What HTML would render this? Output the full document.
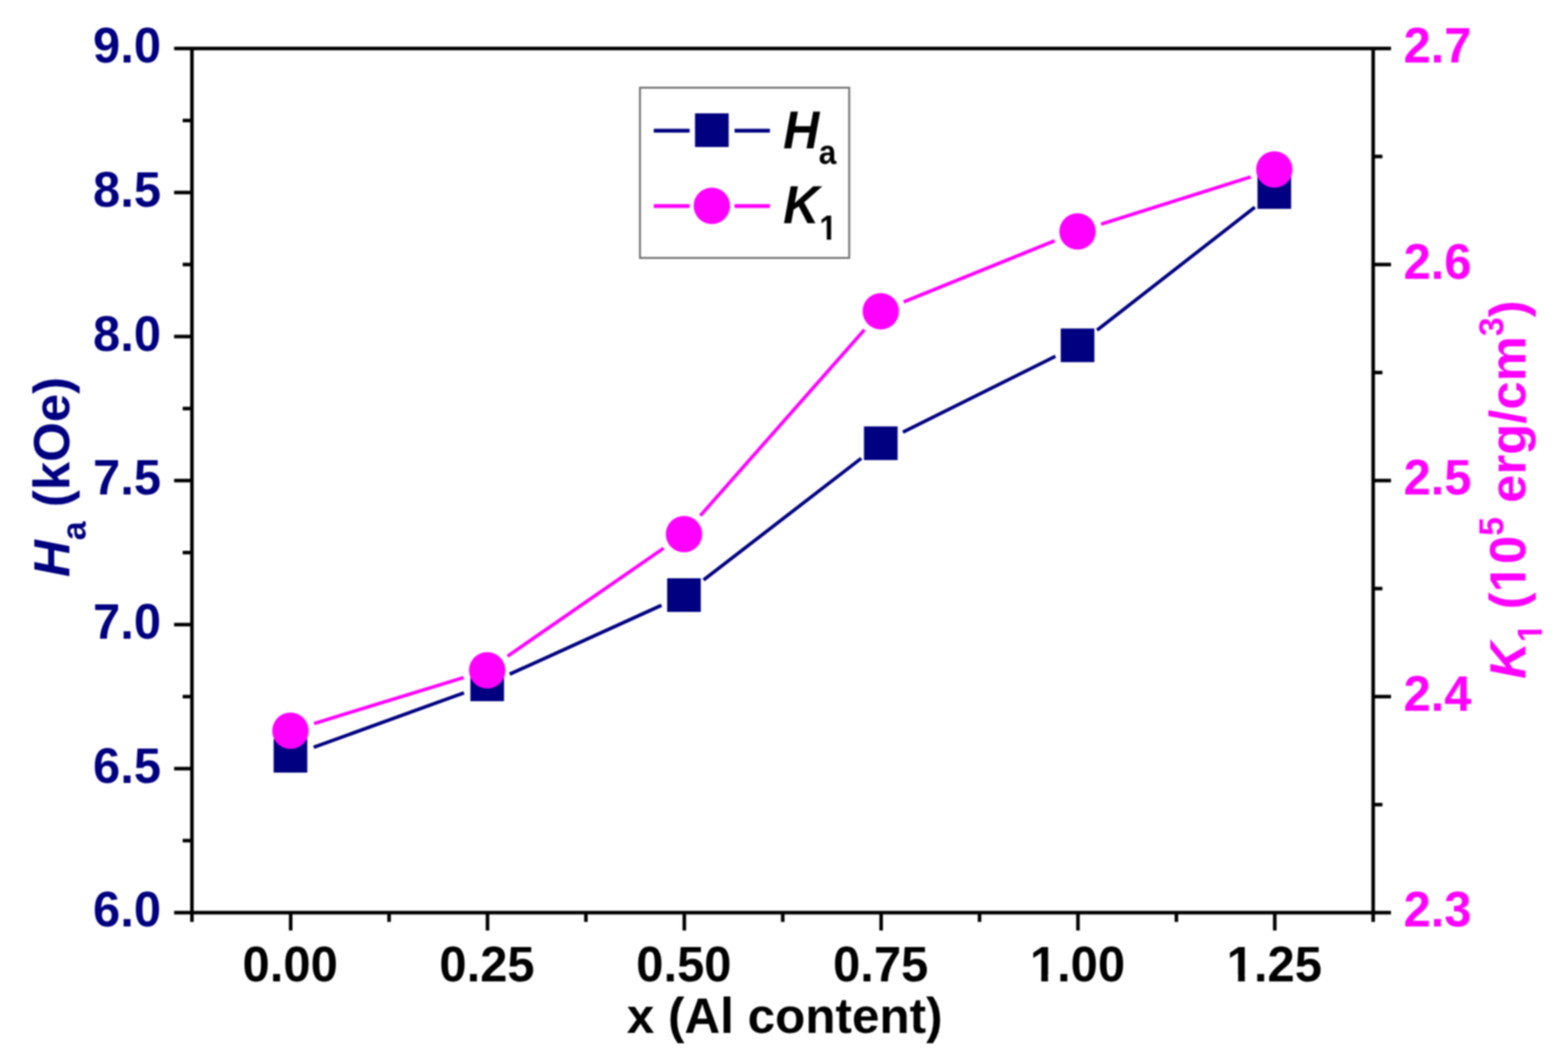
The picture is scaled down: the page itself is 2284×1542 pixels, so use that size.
<!DOCTYPE html>
<html lang="en"><head><meta charset="utf-8"><title>Ha and K1 vs Al content</title>
<style>
html,body{margin:0;padding:0;background:#fff;}
body{width:2284px;height:1542px;overflow:hidden;}
svg{display:block;}
text{font-family:"Liberation Sans",Arial,Helvetica,sans-serif;font-weight:bold;}
</style></head><body>
<svg width="2284" height="1542" viewBox="0 0 2284 1542">
<defs><filter id="soft" x="-10" y="-10" width="2304" height="1562" filterUnits="userSpaceOnUse" color-interpolation-filters="sRGB"><feGaussianBlur stdDeviation="1"/></filter></defs>
<rect x="0" y="0" width="2284" height="1542" fill="#ffffff"/>
<g filter="url(#soft)">
<rect x="-20" y="-20" width="2324" height="1582" fill="#ffffff"/>

<g fill="#000000">
<rect x="253.60" y="68.00" width="1772.60" height="5.20"/>
<rect x="253.60" y="1326.30" width="1772.60" height="5.20"/>
<rect x="277.00" y="70.60" width="5.20" height="1271.80"/>
<rect x="1997.60" y="70.60" width="5.20" height="1271.80"/>
<rect x="266.10" y="1221.44" width="13.50" height="5.20"/>
<rect x="253.60" y="1116.58" width="26.00" height="5.20"/>
<rect x="266.10" y="1011.73" width="13.50" height="5.20"/>
<rect x="253.60" y="906.87" width="26.00" height="5.20"/>
<rect x="266.10" y="802.01" width="13.50" height="5.20"/>
<rect x="253.60" y="697.15" width="26.00" height="5.20"/>
<rect x="266.10" y="592.29" width="13.50" height="5.20"/>
<rect x="253.60" y="487.43" width="26.00" height="5.20"/>
<rect x="266.10" y="382.57" width="13.50" height="5.20"/>
<rect x="253.60" y="277.72" width="26.00" height="5.20"/>
<rect x="266.10" y="172.86" width="13.50" height="5.20"/>
<rect x="2000.20" y="1169.01" width="13.50" height="5.20"/>
<rect x="2000.20" y="1011.72" width="26.00" height="5.20"/>
<rect x="2000.20" y="854.44" width="13.50" height="5.20"/>
<rect x="2000.20" y="697.15" width="26.00" height="5.20"/>
<rect x="2000.20" y="539.86" width="13.50" height="5.20"/>
<rect x="2000.20" y="382.58" width="26.00" height="5.20"/>
<rect x="2000.20" y="225.29" width="13.50" height="5.20"/>
<rect x="420.80" y="1328.90" width="5.20" height="26.00"/>
<rect x="564.15" y="1328.90" width="5.20" height="13.50"/>
<rect x="707.50" y="1328.90" width="5.20" height="26.00"/>
<rect x="850.85" y="1328.90" width="5.20" height="13.50"/>
<rect x="994.20" y="1328.90" width="5.20" height="26.00"/>
<rect x="1137.55" y="1328.90" width="5.20" height="13.50"/>
<rect x="1280.90" y="1328.90" width="5.20" height="26.00"/>
<rect x="1424.25" y="1328.90" width="5.20" height="13.50"/>
<rect x="1567.60" y="1328.90" width="5.20" height="26.00"/>
<rect x="1710.95" y="1328.90" width="5.20" height="13.50"/>
<rect x="1854.30" y="1328.90" width="5.20" height="26.00"/>
</g>
<g stroke="#000080" stroke-width="5" stroke-linecap="butt"><line x1="456.94" y1="1088.22" x2="675.86" y2="1008.78"/><line x1="742.48" y1="981.63" x2="963.52" y2="881.37"/><line x1="1024.81" y1="844.52" x2="1254.49" y2="667.38"/><line x1="1315.23" y1="629.36" x2="1537.37" y2="518.84"/><line x1="1598.00" y1="480.68" x2="1827.80" y2="301.72"/></g>
<g fill="#000080"><rect x="398.60" y="1076.00" width="49" height="49"/><rect x="685.20" y="972.00" width="49" height="49"/><rect x="971.80" y="842.00" width="49" height="49"/><rect x="1258.50" y="620.90" width="49" height="49"/><rect x="1545.10" y="478.30" width="49" height="49"/><rect x="1831.70" y="255.10" width="49" height="49"/></g>
<g stroke="#ff00ff" stroke-width="5" stroke-linecap="butt"><line x1="457.51" y1="1053.52" x2="675.29" y2="986.58"/><line x1="739.31" y1="955.52" x2="966.69" y2="798.28"/><line x1="1020.13" y1="750.82" x2="1259.17" y2="480.18"/><line x1="1316.37" y1="439.68" x2="1536.23" y2="350.62"/><line x1="1603.94" y1="326.28" x2="1821.86" y2="257.62"/></g>
<g fill="#ff00ff"><circle cx="423.1" cy="1064.1" r="26.5"/><circle cx="709.7" cy="976.0" r="26.5"/><circle cx="996.3" cy="777.8" r="26.5"/><circle cx="1283.0" cy="453.2" r="26.5"/><circle cx="1569.6" cy="337.1" r="26.5"/><circle cx="1856.2" cy="246.8" r="26.5"/></g>
<g fill="#000080">
<text id="t1" transform="translate(234.50,1349.40) scale(0.975,1)" font-size="73" text-anchor="end">6.0</text>
<text id="t2" transform="translate(234.50,1139.68) scale(0.975,1)" font-size="73" text-anchor="end">6.5</text>
<text id="t3" transform="translate(234.50,929.97) scale(0.975,1)" font-size="73" text-anchor="end">7.0</text>
<text id="t4" transform="translate(234.50,720.25) scale(0.975,1)" font-size="73" text-anchor="end">7.5</text>
<text id="t5" transform="translate(234.50,510.53) scale(0.975,1)" font-size="73" text-anchor="end">8.0</text>
<text id="t6" transform="translate(234.50,300.82) scale(0.975,1)" font-size="73" text-anchor="end">8.5</text>
<text id="t7" transform="translate(234.50,91.10) scale(0.975,1)" font-size="73" text-anchor="end">9.0</text>
</g>
<g fill="#ff00ff">
<text id="t8" transform="translate(2044.50,1349.40) scale(0.975,1)" font-size="73" text-anchor="start">2.3</text>
<text id="t9" transform="translate(2044.50,1034.82) scale(0.975,1)" font-size="73" text-anchor="start">2.4</text>
<text id="t10" transform="translate(2044.50,720.25) scale(0.975,1)" font-size="73" text-anchor="start">2.5</text>
<text id="t11" transform="translate(2044.50,405.68) scale(0.975,1)" font-size="73" text-anchor="start">2.6</text>
<text id="t12" transform="translate(2044.50,91.10) scale(0.975,1)" font-size="73" text-anchor="start">2.7</text>
</g>
<g fill="#000000">
<text id="t13" transform="translate(422.70,1429.00) scale(0.99,1)" font-size="72" text-anchor="middle">0.00</text>
<text id="t14" transform="translate(709.40,1429.00) scale(0.99,1)" font-size="72" text-anchor="middle">0.25</text>
<text id="t15" transform="translate(996.10,1429.00) scale(0.99,1)" font-size="72" text-anchor="middle">0.50</text>
<text id="t16" transform="translate(1282.80,1429.00) scale(0.99,1)" font-size="72" text-anchor="middle">0.75</text>
<text id="t17" transform="translate(1569.50,1429.00) scale(0.99,1)" font-size="72" text-anchor="middle">1.00</text><g transform="translate(1569.50,1429.00) scale(0.99,1)" fill="#ffffff"><rect x="-66.54" y="-9.67" width="13.29" height="11.25"/><rect x="-43.37" y="-9.67" width="12.34" height="11.25"/></g>
<text id="t18" transform="translate(1856.20,1429.00) scale(0.99,1)" font-size="72" text-anchor="middle">1.25</text><g transform="translate(1856.20,1429.00) scale(0.99,1)" fill="#ffffff"><rect x="-66.54" y="-9.67" width="13.29" height="11.25"/><rect x="-43.37" y="-9.67" width="12.34" height="11.25"/></g>
<text id="t19" transform="translate(1143.00,1504.00)" font-size="72" text-anchor="middle">x (Al content)</text>
</g>
<g fill="#000080"><text id="t20" transform="translate(101.00,694.50) rotate(-90) scale(0.99,1)" font-size="75" text-anchor="middle"><tspan font-style="italic">H</tspan><tspan font-size="50" dy="23.5">a</tspan><tspan dy="-23.5"> (kOe)</tspan></text></g>
<g fill="#ff00ff"><text id="t21" transform="translate(2222.00,713.00) rotate(-90) scale(0.987,1)" font-size="75" text-anchor="middle"><tspan font-style="italic">K</tspan><tspan font-size="50" dy="23.5">1</tspan><tspan dy="-23.5"> (10</tspan><tspan font-size="50" dy="-32.5">5</tspan><tspan dy="32.5"> erg/cm</tspan><tspan font-size="50" dy="-32.5">3</tspan><tspan dy="32.5">)</tspan></text><g transform="translate(2222.00,713.00) rotate(-90) scale(0.987,1)" fill="#ffffff"><rect x="-222.65" y="16.79" width="9.23" height="7.81"/><rect x="-206.56" y="16.79" width="8.57" height="7.81"/></g><g transform="translate(2222.00,713.00) rotate(-90) scale(0.987,1)" fill="#ffffff"><rect x="-147.83" y="-10.07" width="13.84" height="11.72"/><rect x="-123.69" y="-10.07" width="12.85" height="11.72"/></g></g>
<rect x="932.2" y="127.7" width="304.8" height="247.9" fill="#ffffff" stroke="#707070" stroke-width="2.8"/>
<g fill="#000080"><rect x="952.30" y="187.50" width="52.20" height="5.60"/><rect x="1070.00" y="187.50" width="51.50" height="5.60"/></g>
<g fill="#ff00ff"><rect x="952.30" y="297.20" width="52.20" height="5.60"/><rect x="1070.00" y="297.20" width="51.50" height="5.60"/></g>
<rect x="1012.4000000000001" y="165.05" width="49" height="49" fill="#000080"/><circle cx="1036.9" cy="299.7" r="26.5" fill="#ff00ff"/>
<g fill="#000000"><text id="t22" transform="translate(1140.80,215.80) scale(0.935,1)" font-size="78" text-anchor="start"><tspan font-style="italic">H</tspan><tspan font-size="49.5" dy="23.5" dx="-1">a</tspan></text><text id="t23" transform="translate(1140.80,325.30) scale(0.935,1)" font-size="78" text-anchor="start"><tspan font-style="italic">K</tspan><tspan font-size="49.5" dy="24.0" dx="0">1</tspan></text><g transform="translate(1140.80,325.30) scale(0.935,1)" fill="#ffffff"><rect x="58.75" y="17.35" width="9.14" height="7.73"/><rect x="74.68" y="17.35" width="8.48" height="7.73"/></g></g>
</g>
</svg>
</body></html>
